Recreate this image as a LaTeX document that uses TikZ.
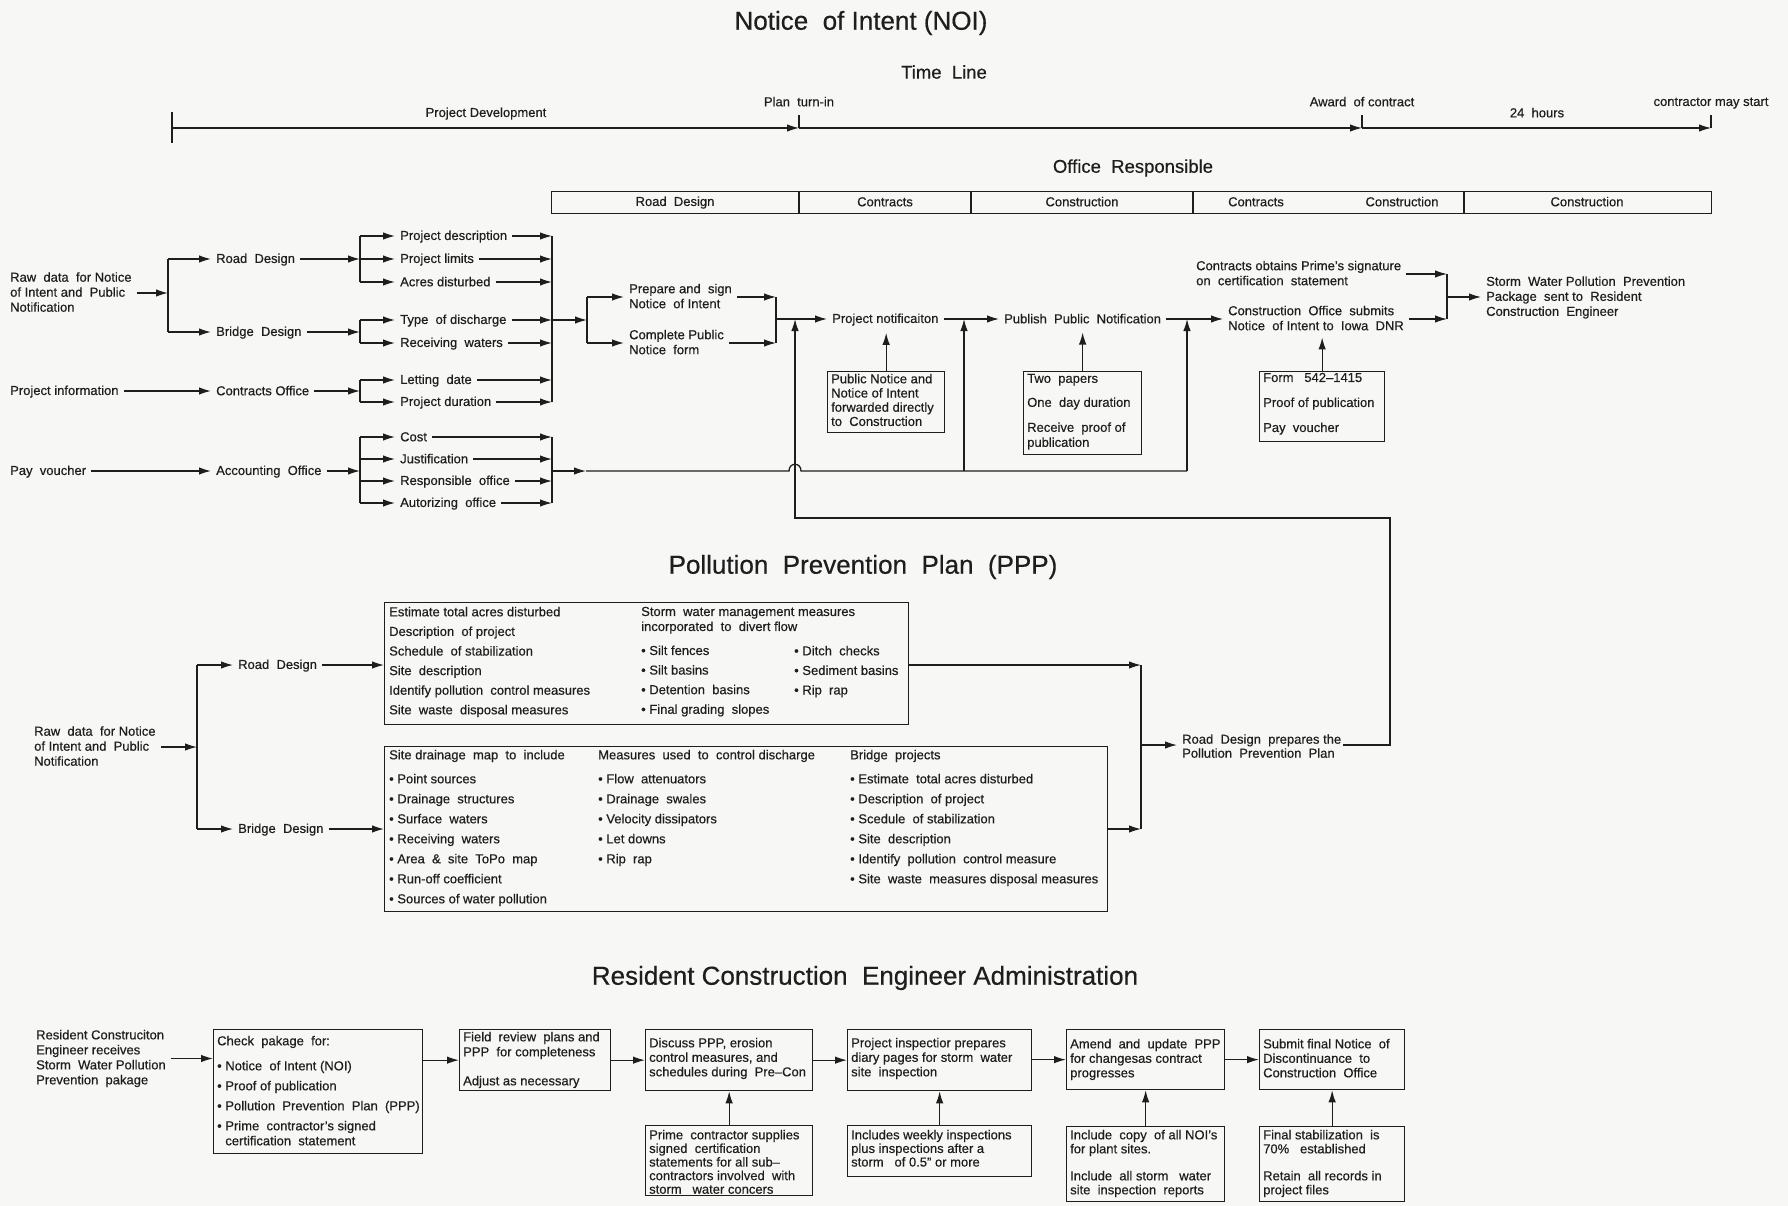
\documentclass[tikz,border=0pt]{standalone}
\usepackage{fontspec}
\setmainfont{Liberation Sans}[FakeBold=0.45]
\usetikzlibrary{arrows.meta}
\definecolor{ink}{RGB}{30,30,30}
\definecolor{paper}{RGB}{247,247,245}
\newcommand\fs{\fontsize{13}{15}\selectfont}
\newcommand\hd{\fontsize{26}{30}\selectfont}
\newcommand\sh{\fontsize{18.5}{22}\selectfont}
% strut: 10.6pt above the baseline, 2pt below it
\newcommand\tstrut{\rule[-2pt]{0pt}{12.6pt}}
\begin{document}
\lineskiplimit=-1000pt
\begin{tikzpicture}[x=1pt,y=-1pt,
  t/.style={inner sep=0pt, font=\fs, text=ink, align=left,
            execute at begin node=\tstrut, execute at end node=\tstrut},
  tw/.style={t, anchor=west},
  tnw/.style={t, anchor=north west},
  frame/.style={draw=ink, line width=1.3pt, inner sep=0pt, anchor=north west},
  ln/.style={draw=ink, line width=1.3pt},
  arr/.style={ln, -{Latex[length=12pt,width=7.5pt]}},
  fa/.style={arr, shorten <=5pt},
  ta/.style={arr, shorten >=5pt},
  tt/.style={arr, shorten <=5pt, shorten >=5pt},
  heading/.style={inner sep=0pt, font=\hd, text=ink},
  sub/.style={inner sep=0pt, font=\sh, text=ink},
]
\fill[paper] (0,0) rectangle (1788,1206);
\useasboundingbox (0,0) rectangle (1788,1206);

%% ---------------- Notice of Intent ----------------
\node[heading] (noi) at (861,23) {Notice\ \ of Intent (NOI)};
\node[sub] (tl) at (944,72) {Time\ \ Line};

% time line
\coordinate (t0) at (172,128);
\coordinate (t1) at (799,128);
\coordinate (t2) at (1362,128);
\coordinate (t3) at (1711,128);
\draw[ln] (t0) ++(0,-16) -- ++(0,31);
\draw[ln] (t1) -- ++(0,-13);
\draw[ln] (t2) -- ++(0,-13);
\draw[ln] (t3) -- ++(0,-13);
\draw[arr] (t0) -- (t1);
\draw[arr] (t1) -- (t2);
\draw[arr] (t2) -- (t3);
\node[t] (lpd) at (486,113) {Project Development};
\node[t] (lpt) at (799,102) {Plan\ \ turn-in};
\node[t] (lac) at (1362,102) {Award\ \ of contract};
\node[t] (l24) at (1537,113) {24\ \ hours};
\node[t] (lcs) at (1711,102) {contractor may start};

% office responsible table
\node[sub] (ofr) at (1133,168) {Office\ \ Responsible};
\node[frame, minimum width=1160pt, minimum height=22pt] (otab) at (551,191) {};
\foreach \x in {799,971,1193,1464} \draw[ln] (\x,191) -- (\x,213);
\node[t] (oc1) at (675,202) {Road\ \ Design};
\node[t] (oc2) at (885,202) {Contracts};
\node[t] (oc3) at (1082,202) {Construction};
\node[t] (oc4) at (1256,202) {Contracts};
\node[t] (oc5) at (1402,202) {Construction};
\node[t] (oc6) at (1587,202) {Construction};

% sources
\node[tw] (raw1) at (10,293) {Raw\ \ data\ \ for Notice\\of Intent and\ \ Public\\Notification};
\node[tw] (rd) at (216,259) {Road\ \ Design};
\node[tw] (bd) at (216,332) {Bridge\ \ Design};
\node[tw] (pinfo) at (10,391) {Project information};
\node[tw] (co) at (216,391) {Contracts Office};
\node[tw] (pv) at (10,471) {Pay\ \ voucher};
\node[tw] (ao) at (216,471) {Accounting\ \ Office};

\coordinate (b1) at (168,293);
\coordinate (b1t) at (168,259);
\coordinate (b1b) at (168,332);
\draw[fa] (raw1.east |- b1) -- (b1);
\draw[ln] (b1t) -- (b1b);
\draw[ta] (b1t) -- (rd.west);
\draw[ta] (b1b) -- (bd.west);
\draw[tt] (pinfo.east) -- (co.west);
\draw[tt] (pv.east) -- (ao.west);

% data items
\node[tw] (i1) at (400,236) {Project description};
\node[tw] (i2) at (400,259) {Project limits};
\node[tw] (i3) at (400,282) {Acres disturbed};
\node[tw] (i4) at (400,320) {Type\ \ of discharge};
\node[tw] (i5) at (400,343) {Receiving\ \ waters};
\node[tw] (i6) at (400,380) {Letting\ \ date};
\node[tw] (i7) at (400,402) {Project duration};
\node[tw] (i8) at (400,437) {Cost};
\node[tw] (i9) at (400,459) {Justification};
\node[tw] (i10) at (400,481) {Responsible\ \ office};
\node[tw] (i11) at (400,503) {Autorizing\ \ office};

% left brackets
\coordinate (b2t) at (360,236); \coordinate (b2m) at (360,259); \coordinate (b2b) at (360,282);
\coordinate (b3t) at (360,320); \coordinate (b3m) at (360,332); \coordinate (b3b) at (360,343);
\coordinate (b4t) at (360,380); \coordinate (b4m) at (360,391); \coordinate (b4b) at (360,402);
\coordinate (b5t) at (360,437); \coordinate (b5m) at (360,471); \coordinate (b5b) at (360,503);
\draw[ln] (b2t) -- (b2b);
\draw[ln] (b3t) -- (b3b);
\draw[ln] (b4t) -- (b4b);
\draw[ln] (b5t) -- (b5b);
\draw[fa] (rd.east) -- (b2m);
\draw[fa] (bd.east) -- (b3m);
\draw[fa] (co.east) -- (b4m);
\draw[fa] (ao.east) -- (b5m);
\draw[ta] (b2t) -- (i1.west);
\draw[ta] (b2m) -- (i2.west);
\draw[ta] (b2b) -- (i3.west);
\draw[ta] (b3t) -- (i4.west);
\draw[ta] (b3b) -- (i5.west);
\draw[ta] (b4t) -- (i6.west);
\draw[ta] (b4b) -- (i7.west);
\draw[ta] (i8.west -| b5t) -- (i8.west);
\draw[ta] (i9.west -| b5t) -- (i9.west);
\draw[ta] (i10.west -| b5t) -- (i10.west);
\draw[ta] (i11.west -| b5t) -- (i11.west);

% right collectors
\coordinate (r1t) at (552,236); \coordinate (r1b) at (552,402);
\coordinate (r2t) at (552,437); \coordinate (r2b) at (552,503);
\draw[ln] (r1t) -- (r1b);
\draw[ln] (r2t) -- (r2b);
\foreach \n in {i1,i2,i3,i4,i5,i6,i7} \draw[fa] (\n.east) -- (\n.east -| r1t);
\foreach \n in {i8,i9,i10,i11} \draw[fa] (\n.east) -- (\n.east -| r2t);

% notice preparation
\coordinate (r1x) at (552,320);
\coordinate (c1m) at (587,320);
\coordinate (c1t) at (587,297);
\coordinate (c1b) at (587,343);
\draw[arr] (r1x) -- (c1m);
\draw[ln] (c1t) -- (c1b);
\node[tw] (prep) at (629,297) {Prepare and\ \ sign\\Notice\ \ of Intent};
\node[tw] (comp) at (629,343) {Complete Public\\Notice\ \ form};
\draw[ta] (c1t) -- (prep.west);
\draw[ta] (c1b) -- (comp.west);
\coordinate (m1t) at (776,297);
\coordinate (m1b) at (776,343);
\coordinate (m1) at (776,319);
\draw[fa] (prep.east) -- (m1t);
\draw[fa] (comp.east) -- (m1b);
\draw[ln] (m1t) -- (m1b);

\node[tw] (pn) at (832,319) {Project notificaiton};
\node[tw] (pub) at (1004,319) {Publish\ \ Public\ \ Notification};
\node[tw] (cos) at (1228,319) {Construction\ \ Office\ \ submits\\Notice\ \ of Intent to\ \ Iowa\ \ DNR};
\node[tw] (cps) at (1196,274) {Contracts obtains Prime’s signature\\on\ \ certification\ \ statement};
\node[tw] (swp) at (1486,297.5) {Storm\ \ Water Pollution\ \ Prevention\\Package\ \ sent to\ \ Resident\\Construction\ \ Engineer};
\draw[ta] (m1) -- (pn.west);
\draw[tt] (pn.east) -- (pub.west);
\draw[tt] (pub.east) -- (cos.west);
\coordinate (m2t) at (1447,274);
\coordinate (m2b) at (1447,319);
\coordinate (m2) at (1447,297);
\draw[fa] (cps.east) -- (cps.east -| m2t);
\draw[fa] (cos.east) -- (m2b);
\draw[ln] (m2t) -- (m2b);
\draw[ta] (m2) -- (m2 -| swp.west);

% supporting boxes
\node[frame, minimum width=117pt, minimum height=61pt] (pnbox) at (827,371) {};
\node[tnw, font=\fontsize{13}{14.2}\selectfont] (pnboxt) at (831,373.7)
  {Public Notice and\\Notice of Intent\\forwarded directly\\to\ \ Construction};
\node[frame, minimum width=118pt, minimum height=83pt] (pubbox) at (1023,371) {};
\node[tnw] (pubboxt) at (1027,373.7)
  {Two\ \ papers\\[9pt]One\ \ day duration\\[10pt]Receive\ \ proof of\\publication};
\node[frame, minimum width=125pt, minimum height=70pt] (formbox) at (1259,371) {};
\node[tnw] (formboxt) at (1263,372.7)
  {Form\ \ \ 542–1415\\[10pt]Proof of publication\\[10pt]Pay\ \ voucher};
\draw[arr, shorten >=7pt] (pnbox.north) -- (pnbox.north |- pn.south);
\draw[arr, shorten >=7pt] (pubbox.north) -- (pubbox.north |- pub.south);
\draw[arr, shorten >=5pt] (formbox.north) -- (formbox.north |- cos.south);

% accounting bus with line hop
\coordinate (ab0) at (552,471);
\coordinate (ab1) at (586,471);
\coordinate (hopL) at (789,471);
\coordinate (hopR) at (801,471);
\coordinate (j1) at (795,319);
\coordinate (j2) at (964,319);
\coordinate (j3) at (1187,319);
\coordinate (j2b) at (964,471);
\coordinate (j3b) at (1187,471);
\draw[arr] (ab0) -- (ab1);
\draw[ln] (ab1) -- (hopL) .. controls (789,462) and (801,462) .. (hopR) -- (j3b);
\draw[arr] (j2b) -- (j2);
\draw[arr] (j3b) -- (j3);

%% ---------------- Pollution Prevention Plan ----------------
\node[heading] (ppp) at (863,567) {Pollution\ \ Prevention\ \ Plan\ \ (PPP)};
\node[tw] (raw2) at (34,747) {Raw\ \ data\ \ for Notice\\of Intent and\ \ Public\\Notification};
\coordinate (p1) at (197,747);
\coordinate (p1t) at (197,665);
\coordinate (p1b) at (197,829);
\draw[fa] (raw2.east |- p1) -- (p1);
\draw[ln] (p1t) -- (p1b);
\node[tw] (rd2) at (238,665) {Road\ \ Design};
\node[tw] (bd2) at (238,829) {Bridge\ \ Design};
\draw[ta] (p1t) -- (rd2.west);
\draw[ta] (p1b) -- (bd2.west);

\node[frame, minimum width=524pt, minimum height=122pt] (rbox) at (384,602) {};
\node[frame, minimum width=723pt, minimum height=165pt] (bbox) at (384,746) {};
\draw[fa] (rd2.east) -- (rd2.east -| rbox.west);
\draw[fa] (bd2.east) -- (bd2.east -| bbox.west);

\node[tnw, font=\fontsize{13}{19.6}\selectfont] (rc1) at (389,606.7)
  {Estimate total acres disturbed\\Description\ \ of project\\Schedule\ \ of stabilization\\Site\ \ description\\Identify pollution\ \ control measures\\Site\ \ waste\ \ disposal measures};
\node[tnw, font=\fontsize{13}{19.6}\selectfont] (rc2) at (641,606.7)
  {Storm\ \ water management measures\\[-4.6pt]incorporated\ \ to\ \ divert flow\\[4.4pt]• Silt fences\\• Silt basins\\• Detention\ \ basins\\• Final grading\ \ slopes};
\node[tnw, font=\fontsize{13}{19.6}\selectfont] (rc3) at (794,645.7)
  {• Ditch\ \ checks\\• Sediment basins\\• Rip\ \ rap};

\node[tnw, font=\fontsize{13}{20}\selectfont] (bc1) at (389,749.7)
  {Site drainage\ \ map\ \ to\ \ include\\[4pt]• Point sources\\• Drainage\ \ structures\\• Surface\ \ waters\\• Receiving\ \ waters\\• Area\ \ \&\ \ site\ \ ToPo\ \ map\\• Run-off coefficient\\• Sources of water pollution};
\node[tnw, font=\fontsize{13}{20}\selectfont] (bc2) at (598,749.7)
  {Measures\ \ used\ \ to\ \ control discharge\\[4pt]• Flow\ \ attenuators\\• Drainage\ \ swales\\• Velocity dissipators\\• Let downs\\• Rip\ \ rap};
\node[tnw, font=\fontsize{13}{20}\selectfont] (bc3) at (850,749.7)
  {Bridge\ \ projects\\[4pt]• Estimate\ \ total acres disturbed\\• Description\ \ of project\\• Scedule\ \ of stabilization\\• Site\ \ description\\• Identify\ \ pollution\ \ control measure\\• Site\ \ waste\ \ measures disposal measures};

\coordinate (m3t) at (1141,665);
\coordinate (m3b) at (1141,829);
\coordinate (m3) at (1141,745);
\draw[arr] (rbox.east |- m3t) -- (m3t);
\draw[arr] (bbox.east |- m3b) -- (m3b);
\draw[ln] (m3t) -- (m3b);
\node[tw, font=\fontsize{13}{14}\selectfont] (rdp) at (1182,747) {Road\ \ Design\ \ prepares the\\Pollution\ \ Prevention\ \ Plan};
\draw[ta] (m3) -- (m3 -| rdp.west);

% plan returns to the notice flow
\coordinate (fbA) at (1390,745);
\coordinate (fbB) at (1390,518);
\coordinate (fbC) at (795,518);
\draw[arr, shorten <=2pt] (rdp.east |- fbA) -- (fbA) -- (fbB) -- (fbC) -- (j1);

%% ---------------- Resident Construction Engineer ----------------
\node[heading] (rce) at (865,978) {Resident Construction\ \ Engineer Administration};
\node[tw] (rce0) at (36,1058.5) {Resident Construciton\\Engineer receives\\Storm\ \ Water Pollution\\Prevention\ \ pakage};

\node[frame, minimum width=209pt, minimum height=124pt] (chk) at (213,1029) {};
\node[tnw, font=\fontsize{13}{20}\selectfont] (chkt) at (217,1035.7)
  {Check\ \ pakage\ \ for:\\[5pt]• Notice\ \ of Intent (NOI)\\• Proof of publication\\• Pollution\ \ Prevention\ \ Plan\ \ (PPP)\\• Prime\ \ contractor’s signed\\[-5pt]\phantom{• }certification\ \ statement};

\node[frame, minimum width=151pt, minimum height=61pt] (fld) at (459,1029) {};
\node[tnw] (fldt) at (463,1031.7) {Field\ \ review\ \ plans and\\PPP\ \ for completeness\\[14pt]Adjust as necessary};

\node[frame, minimum width=167pt, minimum height=61pt] (dsc) at (645,1029) {};
\node[tnw, font=\fontsize{13}{14.5}\selectfont] (dsct) at (649,1037.7)
  {Discuss PPP, erosion\\control measures, and\\schedules during\ \ Pre–Con};

\node[frame, minimum width=184pt, minimum height=61pt] (ins) at (847,1029) {};
\node[tnw, font=\fontsize{13}{14.5}\selectfont] (inst) at (851,1037.7)
  {Project inspectior prepares\\diary pages for storm\ \ water\\site\ \ inspection};

\node[frame, minimum width=158pt, minimum height=60pt] (amd) at (1066,1029) {};
\node[tnw, font=\fontsize{13}{14.5}\selectfont] (amdt) at (1070,1038.7)
  {Amend\ \ and\ \ update\ \ PPP\\for changesas contract\\progresses};

\node[frame, minimum width=145pt, minimum height=60pt] (sbm) at (1259,1029) {};
\node[tnw, font=\fontsize{13}{14.5}\selectfont] (sbmt) at (1263,1038.7)
  {Submit final Notice\ \ of\\Discontinuance\ \ to\\Construction\ \ Office};

\node[frame, minimum width=167pt, minimum height=70pt] (prm) at (645,1125) {};
\node[tnw, font=\fontsize{13}{13.6}\selectfont] (prmt) at (649,1129.7)
  {Prime\ \ contractor supplies\\signed\ \ certification\\statements for all sub–\\contractors involved\ \ with\\storm\ \ \ water concers};

\node[frame, minimum width=184pt, minimum height=51pt] (inc) at (847,1125) {};
\node[tnw, font=\fontsize{13}{13.6}\selectfont] (inct) at (851,1129.7)
  {Includes weekly inspections\\plus inspections after a\\storm\ \ \ of 0.5” or more};

\node[frame, minimum width=158pt, minimum height=75pt] (nois) at (1066,1126) {};
\node[tnw, font=\fontsize{13}{14}\selectfont] (noist) at (1070,1129.7)
  {Include\ \ copy\ \ of all NOI’s\\for plant sites.\\[13pt]Include\ \ all storm\ \ \ water\\site\ \ inspection\ \ reports};

\node[frame, minimum width=145pt, minimum height=75pt] (fin) at (1259,1126) {};
\node[tnw, font=\fontsize{13}{14}\selectfont] (fint) at (1263,1129.7)
  {Final stabilization\ \ is\\70\%\ \ \ established\\[13pt]Retain\ \ all records in\\project files};

\draw[fa] (rce0.east) -- (rce0.east -| chk.west);
\draw[arr] (chk.east |- fld.west) -- (fld.west);
\draw[arr] (fld.east |- dsc.west) -- (dsc.west);
\draw[arr] (dsc.east) -- (ins.west);
\draw[arr] (ins.east |- amd.west) -- (amd.west);
\draw[arr] (amd.east) -- (sbm.west);
\draw[arr] (prm.north) -- (dsc.south);
\draw[arr] (inc.north) -- (ins.south);
\draw[arr] (nois.north) -- (amd.south);
\draw[arr] (fin.north) -- (sbm.south);
\end{tikzpicture}
\end{document}
